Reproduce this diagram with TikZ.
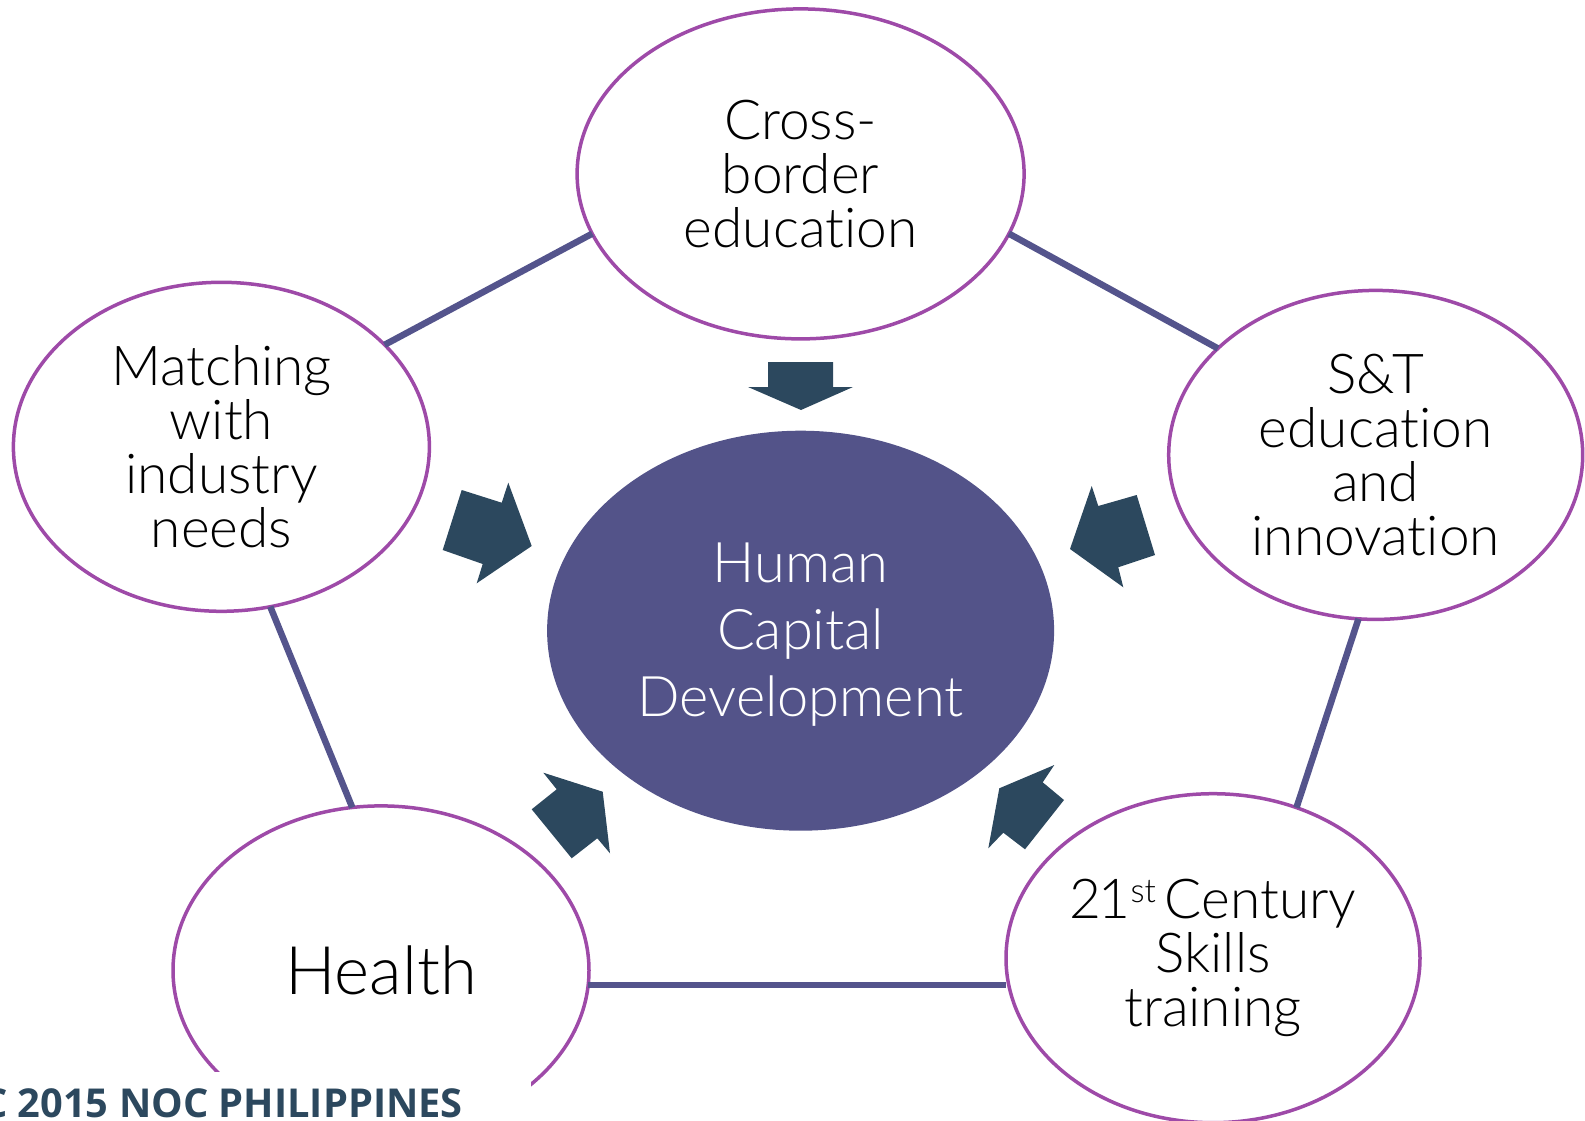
\documentclass[tikz,border=0pt]{standalone}
\usepackage{fontspec}
\setmainfont{Lato Light}[Ligatures=NoCommon]
\newfontfamily\notefont{Open Sans}
\usetikzlibrary{shapes.geometric}
\definecolor{ringpurple}{RGB}{158,74,168}
\definecolor{linkblue}{RGB}{84,84,140}
\definecolor{hubfill}{RGB}{83,83,137}
\definecolor{arrowdark}{RGB}{44,72,94}
\newcommand{\ordst}{\raisebox{16pt}{\fontsize{33}{33}\selectfont st}}
\begin{document}
\begin{tikzpicture}[x=1pt,y=-1pt,
area/.style={ellipse,draw=ringpurple,line width=3.5pt,fill=white,inner sep=0pt,outer sep=0pt,minimum width=416pt,minimum height=329pt,align=center,font=\fontsize{55}{54}\selectfont},
link/.style={draw=linkblue,line width=6.5pt},
push/.style={fill=arrowdark}]
\useasboundingbox(0,0)rectangle(1585,1121);
\node[ellipse,fill=hubfill,inner sep=0pt,outer sep=0pt,minimum width=507pt,minimum height=400pt,text=white,align=center,font=\fontsize{56}{67}\selectfont](hub)at(800.6,630.7){\rule{0pt}{48pt}Human\\Capital\\Development};
\node[area,minimum width=447pt,minimum height=330pt](cross)at(800.6,173.9){Cross-\\border\\education};
\node[area](match)at(221.4,446.8){Matching\\with\\industry\\needs};
\node[area,minimum width=414pt](snt)at(1375.7,454.9){S\&T\\education\\and\\innovation};
\node[area,minimum width=414pt](skills)at(1213,958.2){2\kern-3pt1\ordst\hspace{-6pt} Century\\Skills\\training};
\node[area,font=\fontsize{67}{70}\selectfont](health)at(381,970.4){Health};
\draw[link](match.32)--(cross.196);\draw[link](cross.344)--(snt.146);
\draw[link](snt.264)--(skills.61);\draw[link](match.287)--(health.100);
\draw[link](health.356)--(health.356-|skills.west);
% arrows into the hub
\fill[push](768,362)--(833,362)--(833,387)--(853,387)--(801,410)--(748,387)--(768,387)--cycle;
\fill[push](461.7,490)--(501.7,502.7)--(508.3,482.7)--(531.7,546)--(476.7,583.3)--(482.7,564)--(442.7,550)--cycle;
\fill[push](1091.7,486)--(1098.3,506)--(1136.7,495)--(1155,555)--(1118.3,567.3)--(1123.3,587.3)--(1070,549)--cycle;
\fill[push](543.3,772.7)--(602.7,791.7)--(610,853.3)--(597.3,838.3)--(571.7,858.3)--(531.7,809.3)--(556.7,789.3)--cycle;
\fill[push](1054.3,765)--(1042.7,782.3)--(1064,800)--(1025,849.3)--(1003.3,832.7)--(988.3,848.3)--(999.3,788.3)--cycle;
\fill[white](-5,1072)rectangle(531,1130);
\node[anchor=base east,inner sep=0pt,text=arrowdark,font=\notefont\bfseries\fontsize{39.8}{42}\selectfont](note)at(463,1117){APEC 2015 NOC PHILIPPINES};
\end{tikzpicture}
\end{document}
